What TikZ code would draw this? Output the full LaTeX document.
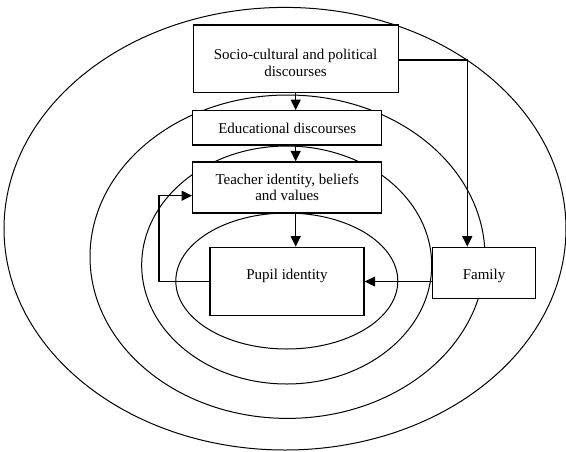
\documentclass[tikz,border=0pt]{standalone}
\usepackage{fontspec}
\setmainfont{Liberation Serif}
\usetikzlibrary{arrows.meta}
\begin{document}
\begin{tikzpicture}[x=1pt,y=-1pt,
  ring/.style={draw, line width=1pt},
  box/.style={draw, fill=white, line width=1.3pt, inner sep=0pt, align=center,
    font=\fontsize{15}{16.5}\selectfont},
  boxtext/.style={inner sep=0pt, align=center, font=\fontsize{15}{16.5}\selectfont},
  conn/.style={line width=1.3pt, -{Triangle[length=10.5pt,width=10pt]}}]
\useasboundingbox (0,0) rectangle (566,451);
% rings
\draw[ring] (285,228.7) ellipse [x radius=281, y radius=221.3];
\draw[ring] (287.5,256.7) ellipse [x radius=197.5, y radius=161.7];
\draw[ring] (286.7,265) ellipse [x radius=145, y radius=119];
\draw[ring] (286.8,281) ellipse [x radius=111, y radius=68];
% boxes
\node[box, minimum width=205pt, minimum height=67.7pt] (socio) at (295.8,58.9) {};
\node[boxtext] (sociotxt) at (295.5,63) {Socio-cultural and political\\discourses};
\node[box, minimum width=189pt, minimum height=34.3pt] (edu) at (287.2,127.9) {Educational discourses};
\node[box, minimum width=189pt, minimum height=51pt] (teacher) at (287.2,187.5) {Teacher identity, beliefs\\and values};
\node[box, minimum width=154pt, minimum height=68.4pt] (pupil) at (287,281.5) {};
\node[boxtext] (pupiltxt) at (287,276) {Pupil identity};
\node[box, minimum width=103pt, minimum height=51pt] (family) at (484.2,272.8) {};
\node[boxtext] (familytxt) at (484,275.5) {Family};
% connectors
\coordinate (ax) at (295.7,0);
\draw[conn] (socio.south -| ax) -- (edu.north -| ax);
\draw[conn] (edu.south -| ax) -- (teacher.north -| ax);
\draw[conn] (teacher.south -| ax) -- (pupil.north -| ax);
\coordinate (corner) at (467.3,60);
\draw[conn] (socio.east |- corner) -- (corner) -- (corner |- family.north);
\draw[conn] (family.west |- pupil.east) -- (pupil.east);
\coordinate (fb) at (159,195.7);
\draw[conn] (pupil.west) -| (fb) -- (fb -| teacher.west);
\end{tikzpicture}
\end{document}
